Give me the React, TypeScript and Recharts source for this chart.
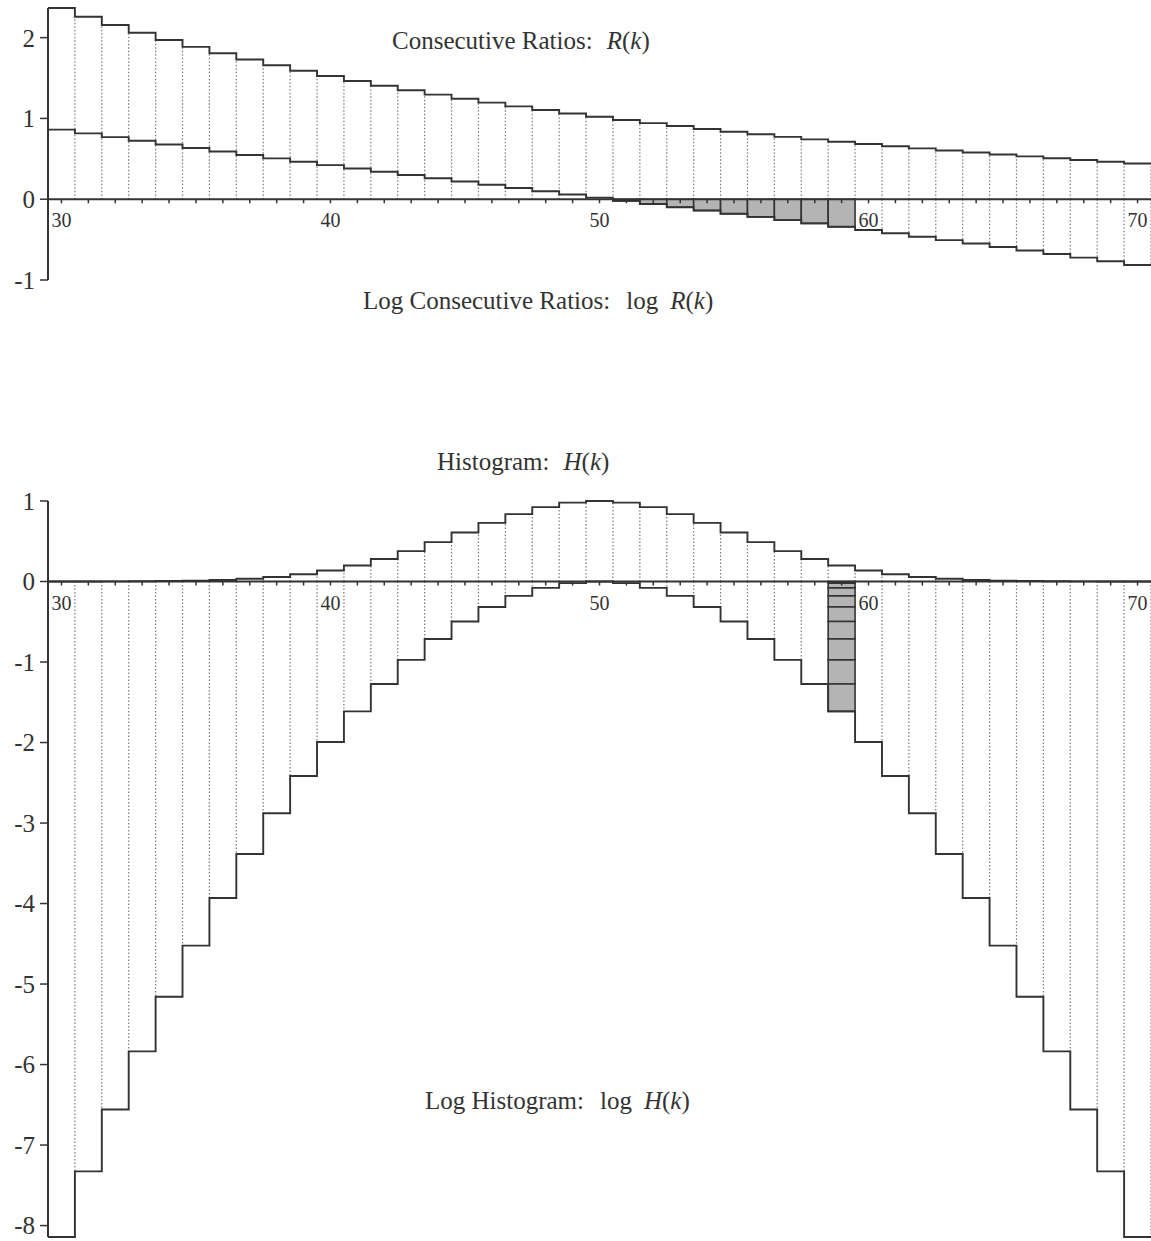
import {
  ComposedChart,
  Line,
  XAxis,
  YAxis,
  ReferenceLine,
  ReferenceArea,
  ReferenceDot,
} from "recharts";

const ks = [
  30, 31, 32, 33, 34, 35, 36, 37, 38, 39, 40, 41, 42, 43, 44, 45, 46, 47, 48, 49, 50,
  51, 52, 53, 54, 55, 56, 57, 58, 59, 60, 61, 62, 63, 64, 65, 66, 67, 68, 69, 70,
];

// consecutive ratios R(k)
const ratio = [
  2.367, 2.258, 2.156, 2.061, 1.971, 1.886, 1.806, 1.73, 1.658, 1.59, 1.525, 1.463, 1.405,
  1.349, 1.295, 1.244, 1.196, 1.149, 1.104, 1.061, 1.02, 0.98, 0.942, 0.906, 0.87, 0.836,
  0.804, 0.772, 0.741, 0.712, 0.683, 0.656, 0.629, 0.603, 0.578, 0.554, 0.53, 0.507, 0.485,
  0.464, 0.443,
];

// log R(k)
const logRatio = [
  0.862, 0.815, 0.768, 0.723, 0.678, 0.634, 0.591, 0.548, 0.506, 0.464, 0.422, 0.381, 0.34,
  0.299, 0.259, 0.219, 0.179, 0.139, 0.099, 0.059, 0.02, -0.02, -0.059, -0.099, -0.139,
  -0.179, -0.219, -0.259, -0.299, -0.34, -0.381, -0.422, -0.464, -0.506, -0.548, -0.591,
  -0.634, -0.678, -0.723, -0.768, -0.815,
];

// histogram H(k)
const hist = [
  0.0003, 0.0007, 0.0014, 0.0029, 0.0057, 0.0109, 0.0196, 0.0339, 0.0562, 0.0893, 0.1363,
  0.1994, 0.2801, 0.3778, 0.4894, 0.609, 0.7282, 0.8367, 0.9239, 0.9804, 1, 0.9804, 0.9239,
  0.8367, 0.7282, 0.609, 0.4894, 0.3778, 0.2801, 0.1994, 0.1363, 0.0893, 0.0562, 0.0339,
  0.0196, 0.0109, 0.0057, 0.0029, 0.0014, 0.0007, 0.0003,
];

// log H(k)
const logHist = [
  -8.142, -7.327, -6.559, -5.836, -5.158, -4.523, -3.932, -3.384, -2.879, -2.415, -1.993,
  -1.613, -1.273, -0.973, -0.715, -0.496, -0.317, -0.178, -0.079, -0.02, 0, -0.02, -0.079,
  -0.178, -0.317, -0.496, -0.715, -0.973, -1.273, -1.613, -1.993, -2.415, -2.879, -3.384,
  -3.932, -4.523, -5.158, -5.836, -6.559, -7.327, -8.142,
];

const shadedKs = [51, 52, 53, 54, 55, 56, 57, 58, 59];
const xTickLabels = [30, 40, 50, 60, 70];
const topYTicks = [-1, 0, 1, 2];
const bottomYTicks = [-8, -7, -6, -5, -4, -3, -2, -1, 0, 1];

const INK = "#333";
const DOTS = "#7a7a7a";
const GRAY = "#b4b4b4";
const SERIF = "'Liberation Serif', 'Times New Roman', serif";

type Seg = { x: number; y: number };

// dotted bar sides, from 0 to the shorter neighbour (the solid step covers the rest)
const sideSegments = (series: number[][], skip: number[]) => {
  const out: Seg[] = [];
  for (let i = 1; i <= ks.length; i++) {
    const x = ks[i - 1] + 0.5;
    let up = 0;
    let down = 0;
    for (const s of series) {
      const a = s[i - 1];
      const b = i < s.length ? s[i] : undefined;
      if (a > 0 && (b === undefined || b > 0)) up = Math.max(up, b === undefined ? a : Math.min(a, b));
      if (a < 0 && (b === undefined || b < 0)) down = Math.min(down, b === undefined ? a : Math.max(a, b));
    }
    const covered = skip.includes(ks[i - 1]) || (i < ks.length && skip.includes(ks[i]));
    if (up > 0) out.push({ x, y: up });
    if (down < 0 && !covered) out.push({ x, y: down });
  }
  return out;
};

type Box = { x1: number; x2: number; y1: number; y2: number };

interface PanelProps {
  series: number[][];
  top: number;
  height: number;
  marginTop: number;
  marginBottom: number;
  yDomain: [number, number];
  yTicks: number[];
  boxes: Box[];
  skip: number[];
}

const Panel = ({ series, top, height, marginTop, marginBottom, yDomain, yTicks, boxes, skip }: PanelProps) => {
  const last = ks.length - 1;
  const rows = [
    ...ks.map((k, i) => ({ x: k - 0.5, s0: series[0][i], s1: series[1][i] })),
    { x: ks[last] + 0.5, s0: series[0][last], s1: series[1][last] },
  ];
  const sides = sideSegments(series, skip);

  return (
    <div style={{ position: "absolute", left: 0, top }}>
      <ComposedChart
        width={1151}
        height={height}
        data={rows}
        margin={{ top: marginTop, right: 0, bottom: marginBottom, left: 0 }}
      >
        <XAxis type="number" dataKey="x" domain={[29.5, 70.5]} hide />
        <YAxis
          type="number"
          domain={yDomain}
          ticks={yTicks}
          interval={0}
          width={48}
          axisLine={{ stroke: INK, strokeWidth: 2 }}
          tickLine={{ stroke: INK, strokeWidth: 1.5 }}
          tickSize={8}
          tickMargin={5}
          tick={{ fill: INK, fontSize: 25, fontFamily: SERIF }}
        />
        {sides.map((s, i) => (
          <ReferenceLine
            key={`side-${i}`}
            segment={[
              { x: s.x, y: 0 },
              { x: s.x, y: s.y },
            ]}
            stroke={DOTS}
            strokeWidth={1.2}
            strokeDasharray="1.5 2"
            ifOverflow="visible"
          />
        ))}
        {boxes.map((b, i) => (
          <ReferenceArea
            key={`box-${i}`}
            x1={b.x1}
            x2={b.x2}
            y1={b.y1}
            y2={b.y2}
            fill={GRAY}
            fillOpacity={1}
            stroke={INK}
            strokeWidth={1.6}
            ifOverflow="visible"
          />
        ))}
        <Line
          type="stepAfter"
          dataKey="s0"
          stroke={INK}
          strokeWidth={1.9}
          dot={false}
          activeDot={false}
          isAnimationActive={false}
        />
        <Line
          type="stepAfter"
          dataKey="s1"
          stroke={INK}
          strokeWidth={1.9}
          dot={false}
          activeDot={false}
          isAnimationActive={false}
        />
        <ReferenceLine y={0} stroke={INK} strokeWidth={2} ifOverflow="visible" />
        {ks.map((k) => (
          <ReferenceDot
            key={`tick-${k}`}
            x={k}
            y={0}
            r={0}
            ifOverflow="visible"
            shape={(p: any) => (
              <g>
                <line x1={p.cx} y1={p.cy} x2={p.cx} y2={p.cy + 4} stroke={INK} strokeWidth={1.5} />
                {xTickLabels.includes(k) && (
                  <text
                    x={p.cx}
                    y={p.cy + 28}
                    textAnchor="middle"
                    fontSize={20}
                    fontFamily={SERIF}
                    fill={INK}
                  >
                    {k}
                  </text>
                )}
              </g>
            )}
          />
        ))}
      </ComposedChart>
    </div>
  );
};

const titleStyle = (left: number, top: number): React.CSSProperties => ({
  position: "absolute",
  left,
  top,
  fontFamily: SERIF,
  fontSize: 25,
  lineHeight: "25px",
  color: INK,
  whiteSpace: "nowrap",
});

const gap = (w: number) => <span style={{ display: "inline-block", width: w }} />;

const App = () => {
  const topBoxes: Box[] = shadedKs.map((k) => ({
    x1: k - 0.5,
    x2: k + 0.5,
    y1: 0,
    y2: logRatio[ks.indexOf(k)],
  }));

  const stackK = shadedKs[shadedKs.length - 1];
  const stackBoxes: Box[] = [];
  let acc = 0;
  shadedKs.forEach((k) => {
    const v = logRatio[ks.indexOf(k)];
    stackBoxes.push({ x1: stackK - 0.5, x2: stackK + 0.5, y1: acc, y2: acc + v });
    acc += v;
  });

  return (
    <div style={{ position: "absolute", left: 0, top: 0, width: 1151, height: 1241, background: "#fff" }}>
      <Panel
        series={[ratio, logRatio]}
        top={0}
        height={300}
        marginTop={8}
        marginBottom={20}
        yDomain={[-1, 2.367]}
        yTicks={topYTicks}
        boxes={topBoxes}
        skip={shadedKs}
      />
      <Panel
        series={[hist, logHist]}
        top={478}
        height={763}
        marginTop={23}
        marginBottom={4}
        yDomain={[-8.142, 1]}
        yTicks={bottomYTicks}
        boxes={stackBoxes}
        skip={[stackK]}
      />
      <div style={titleStyle(392, 28)}>
        Consecutive Ratios:{gap(14)}<i>R</i>(<i>k</i>)
      </div>
      <div style={titleStyle(363, 288)}>
        Log Consecutive Ratios:{gap(16)}log{gap(12)}<i>R</i>(<i>k</i>)
      </div>
      <div style={titleStyle(437, 449)}>
        Histogram:{gap(14)}<i>H</i>(<i>k</i>)
      </div>
      <div style={titleStyle(425, 1088)}>
        Log Histogram:{gap(16)}log{gap(12)}<i>H</i>(<i>k</i>)
      </div>
    </div>
  );
};

export default App;
